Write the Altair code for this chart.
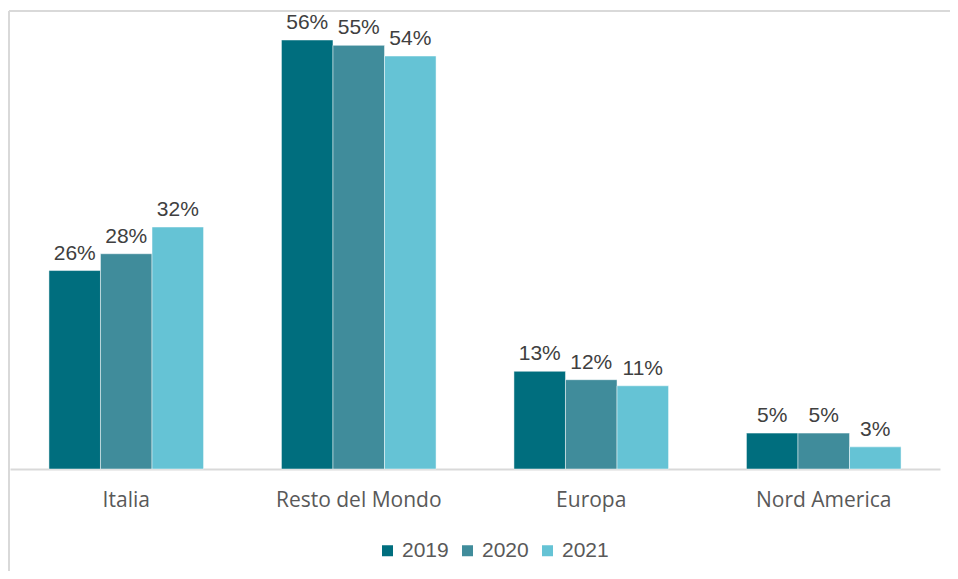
import altair as alt
import pandas as pd

categories = ["Italia", "Resto del Mondo", "Europa", "Nord America"]
years = ["2019", "2020", "2021"]
values_2019 = [0.260, 0.562, 0.128, 0.047]
values_2020 = [0.282, 0.555, 0.117, 0.047]
values_2021 = [0.317, 0.541, 0.109, 0.029]
labels_2019 = ["26%", "56%", "13%", "5%"]
labels_2020 = ["28%", "55%", "12%", "5%"]
labels_2021 = ["32%", "54%", "11%", "3%"]
colors = ["#006E7E", "#408C9B", "#65C3D5"]

rows = []
for yr, vals, labs in zip(years, [values_2019, values_2020, values_2021],
                          [labels_2019, labels_2020, labels_2021]):
    for c, v, l in zip(categories, vals, labs):
        rows.append({"area": c, "year": yr, "value": v, "label": l})
df = pd.DataFrame(rows)

W, H = 930, 458

x = alt.X("area:N", sort=categories, title=None,
          scale=alt.Scale(paddingInner=0.335, paddingOuter=0.1675),
          axis=alt.Axis(labelAngle=0, labelFont="Open Sans", labelFontSize=21,
                        labelColor="#595959", labelPadding=20, ticks=False,
                        domainColor="#D9D9D9", domainWidth=2))
xo = alt.XOffset("year:N", sort=years, scale=alt.Scale(paddingInner=0, paddingOuter=0))
y = alt.Y("value:Q", scale=alt.Scale(domain=[0, 0.6], nice=False), axis=None)

bars = alt.Chart(df).mark_bar(stroke="white", strokeWidth=0.8, strokeOpacity=0.6).encode(
    x=x, xOffset=xo, y=y,
    color=alt.Color("year:N", sort=years,
                    scale=alt.Scale(domain=years, range=colors),
                    legend=alt.Legend(title=None, orient="none", direction="horizontal",
                                      legendX=367, legendY=529,
                                      symbolType="square", symbolSize=121,
                                      symbolStrokeWidth=0, symbolOpacity=1,
                                      labelFont="Liberation Sans", labelFontSize=21,
                                      labelColor="#595959", labelOffset=4,
                                      columnPadding=8))
)

text = alt.Chart(df).mark_text(baseline="bottom", dy=-7, font="Liberation Sans",
                               fontSize=21, color="#404040").encode(
    x=x, xOffset=xo, y=y, text="label:N"
)

frame_top = alt.Chart(df).mark_rule(color="#D9D9D9", strokeWidth=2).encode(
    x=alt.value(-1), x2=alt.value(W + 10), y=alt.value(0)
)
frame_left = alt.Chart(df).mark_rule(color="#D9D9D9", strokeWidth=2).encode(
    x=alt.value(-1), y=alt.value(0), y2=alt.value(H + 102)
)

chart = alt.layer(frame_top, frame_left, bars, text).properties(
    width=W, height=H,
    autosize=alt.AutoSizeParams(type="none"),
    padding={"left": 2, "top": 3, "right": 10, "bottom": 102},
    background="white",
).configure_view(stroke=None)

chart.save("out.html", embed_options={"renderer": "svg", "actions": False})
